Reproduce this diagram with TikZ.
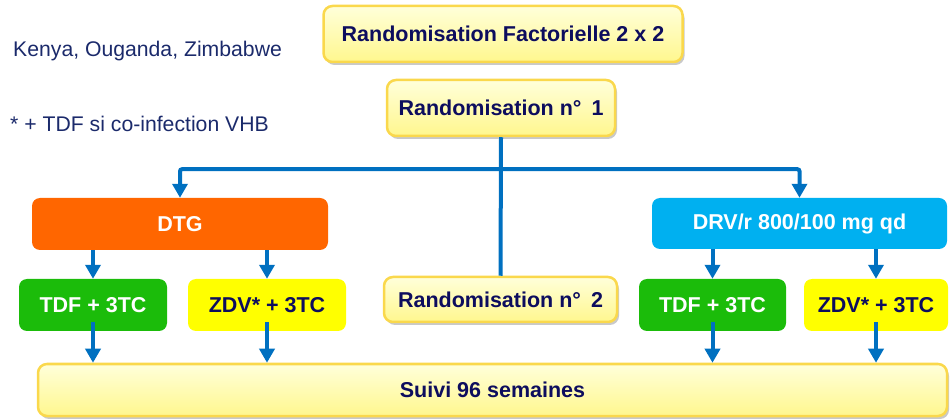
\documentclass[tikz,border=0pt]{standalone}
\usepackage{fontspec}
\setmainfont{Liberation Sans}
\usetikzlibrary{arrows.meta,shadows,calc}
\definecolor{navy}{HTML}{0D0D5E}
\definecolor{tnavy}{HTML}{1B2A6B}
\definecolor{arrblue}{HTML}{0070C0}
\definecolor{orng}{HTML}{FF6600}
\definecolor{cyanb}{HTML}{00B0F0}
\definecolor{grn}{HTML}{1BBC0A}
\definecolor{ylw}{HTML}{FFFF00}
\definecolor{ytop}{HTML}{FFFFDA}
\definecolor{ybot}{HTML}{FFF78E}
\definecolor{ygold}{HTML}{FAD84C}
\tikzset{
  boxfont/.style={font=\fontsize{21.5}{25}\selectfont\bfseries},
  ybox/.style={boxfont, draw=ygold, line width=2.5pt, rounded corners=9pt,
    top color=ytop, bottom color=ybot, text=navy, inner sep=0pt,
    drop shadow={shadow xshift=2pt, shadow yshift=-3pt, opacity=0.3, fill=black!70}},
  cbox/.style={boxfont, rounded corners=8pt, inner sep=0pt},
  arr/.style={draw=arrblue, line width=4pt, -{Triangle[width=15pt,length=14pt]}},
  conn/.style={draw=arrblue, line width=4pt},
  note/.style={font=\fontsize{21.2}{25}\selectfont, text=tnavy, inner sep=0pt, anchor=base west}
}
\begin{document}
\begin{tikzpicture}[x=1pt,y=-1pt]
\useasboundingbox (0,0) rectangle (950,419);

\node[note] (kenya) at (13,57) {Kenya, Ouganda, Zimbabwe};
\node[note] (foot) at (10,132) {* + TDF si co-infection VHB};

\node[ybox, minimum width=359pt, minimum height=56pt] (fact) at (503,34) {Randomisation Factorielle 2 x 2};
\node[ybox, minimum width=228pt, minimum height=56pt] (r1) at (501,108) {Randomisation n°\hspace{4pt} 1};

\node[cbox, fill=orng, text=white, minimum width=296pt, minimum height=52pt] (dtg) at (180,224) {DTG};
\node[cbox, fill=cyanb, text=white, minimum width=295pt, minimum height=51pt] (drv) at (799.5,223.5) {DRV/r 800/100 mg qd};

\node[cbox, fill=grn, text=white, minimum width=148pt, minimum height=52pt] (tdf1) at (93,305) {TDF + 3TC};
\node[cbox, fill=ylw, text=navy, minimum width=158pt, minimum height=52pt] (zdv1) at (267,305) {ZDV* + 3TC};
\node[cbox, fill=grn, text=white, minimum width=147pt, minimum height=52pt] (tdf2) at (712.5,305) {TDF + 3TC};
\node[cbox, fill=ylw, text=navy, minimum width=144pt, minimum height=52pt] (zdv2) at (876,305) {ZDV* + 3TC};

\node[ybox, minimum width=233pt, minimum height=45pt] (r2) at (500.5,299.5) {Randomisation n°\hspace{4pt} 2};
\node[ybox, minimum width=909pt, minimum height=52pt] (suivi) at (492.5,390) {Suivi 96 semaines};

% connectors
\coordinate (j) at ($(r1.south)+(0,32)$);
\draw[conn] (r1.south) -- (r2.north);
\draw[arr, rounded corners=2pt] (j) -| (dtg.north);
\draw[arr, rounded corners=2pt] (j) -| (drv.north);

\draw[arr] (dtg.south -| tdf1.north) -- (tdf1.north);
\draw[arr] (dtg.south -| zdv1.north) -- (zdv1.north);
\draw[arr] (drv.south -| tdf2.north) -- (tdf2.north);
\draw[arr] (drv.south -| zdv2.north) -- (zdv2.north);

\draw[arr] ([yshift=9pt]tdf1.south) -- (suivi.north -| tdf1.south);
\draw[arr] ([yshift=9pt]zdv1.south) -- (suivi.north -| zdv1.south);
\draw[arr] ([yshift=9pt]tdf2.south) -- (suivi.north -| tdf2.south);
\draw[arr] ([yshift=9pt]zdv2.south) -- (suivi.north -| zdv2.south);
\end{tikzpicture}
\end{document}
